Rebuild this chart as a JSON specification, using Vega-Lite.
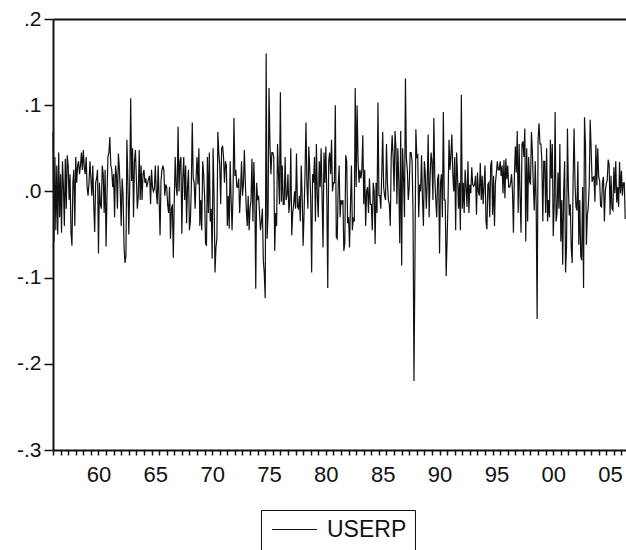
{
  "$schema": "https://vega.github.io/schema/vega-lite/v6.json",
  "width": 573,
  "height": 431,
  "autosize": "none",
  "padding": {"left": 53, "top": 19, "right": 0, "bottom": 100},
  "background": "white",
  "config": {
    "font": "Liberation Sans",
    "view": {"stroke": null}
  },
  "datasets": {"main": [
{"t":1956,"v":0.069},{"t":1956.083,"v":-0.058},{"t":1956.167,"v":0.040},{"t":1956.25,"v":-0.045},{"t":1956.333,"v":0.030},{"t":1956.417,"v":-0.050},{"t":1956.5,"v":0.045},{"t":1956.583,"v":-0.030},{"t":1956.667,"v":0.020},{"t":1956.75,"v":-0.048},{"t":1956.833,"v":0.035},{"t":1956.917,"v":0.005},
{"t":1957,"v":-0.040},{"t":1957.083,"v":0.038},{"t":1957.167,"v":-0.020},{"t":1957.25,"v":0.042},{"t":1957.333,"v":0.030},{"t":1957.417,"v":-0.010},{"t":1957.5,"v":0.020},{"t":1957.583,"v":-0.048},{"t":1957.667,"v":-0.063},{"t":1957.75,"v":0.010},{"t":1957.833,"v":0.025},{"t":1957.917,"v":-0.040},
{"t":1958,"v":0.040},{"t":1958.083,"v":0.010},{"t":1958.167,"v":0.030},{"t":1958.25,"v":0.035},{"t":1958.333,"v":0.020},{"t":1958.417,"v":0.030},{"t":1958.5,"v":0.045},{"t":1958.583,"v":0.025},{"t":1958.667,"v":0.048},{"t":1958.75,"v":0.028},{"t":1958.833,"v":0.020},{"t":1958.917,"v":0.040},
{"t":1959,"v":0.005},{"t":1959.083,"v":-0.005},{"t":1959.167,"v":0.010},{"t":1959.25,"v":0.035},{"t":1959.333,"v":0.015},{"t":1959.417,"v":-0.005},{"t":1959.5,"v":0.030},{"t":1959.583,"v":-0.015},{"t":1959.667,"v":-0.047},{"t":1959.75,"v":0.010},{"t":1959.833,"v":0.015},{"t":1959.917,"v":0.025},
{"t":1960,"v":-0.072},{"t":1960.083,"v":0.010},{"t":1960.167,"v":-0.015},{"t":1960.25,"v":-0.020},{"t":1960.333,"v":0.030},{"t":1960.417,"v":0.020},{"t":1960.5,"v":-0.025},{"t":1960.583,"v":0.025},{"t":1960.667,"v":-0.064},{"t":1960.75,"v":-0.005},{"t":1960.833,"v":0.040},{"t":1960.917,"v":0.045},
{"t":1961,"v":0.063},{"t":1961.083,"v":0.030},{"t":1961.167,"v":0.025},{"t":1961.25,"v":0.005},{"t":1961.333,"v":0.020},{"t":1961.417,"v":-0.030},{"t":1961.5,"v":0.030},{"t":1961.583,"v":0.020},{"t":1961.667,"v":-0.020},{"t":1961.75,"v":0.044},{"t":1961.833,"v":0.028},{"t":1961.917,"v":0.000},
{"t":1962,"v":-0.040},{"t":1962.083,"v":0.015},{"t":1962.167,"v":-0.005},{"t":1962.25,"v":-0.065},{"t":1962.333,"v":-0.083},{"t":1962.417,"v":-0.075},{"t":1962.5,"v":0.060},{"t":1962.583,"v":0.015},{"t":1962.667,"v":-0.050},{"t":1962.75,"v":0.005},{"t":1962.833,"v":0.108},{"t":1962.917,"v":0.012},
{"t":1963,"v":0.050},{"t":1963.083,"v":-0.030},{"t":1963.167,"v":0.035},{"t":1963.25,"v":0.048},{"t":1963.333,"v":0.015},{"t":1963.417,"v":-0.020},{"t":1963.5,"v":-0.005},{"t":1963.583,"v":0.048},{"t":1963.667,"v":-0.010},{"t":1963.75,"v":0.030},{"t":1963.833,"v":-0.010},{"t":1963.917,"v":0.020},
{"t":1964,"v":0.025},{"t":1964.083,"v":0.010},{"t":1964.167,"v":0.015},{"t":1964.25,"v":0.005},{"t":1964.333,"v":0.010},{"t":1964.417,"v":0.015},{"t":1964.5,"v":0.018},{"t":1964.583,"v":-0.015},{"t":1964.667,"v":0.025},{"t":1964.75,"v":0.005},{"t":1964.833,"v":0.000},{"t":1964.917,"v":0.003},
{"t":1965,"v":0.030},{"t":1965.083,"v":0.000},{"t":1965.167,"v":-0.015},{"t":1965.25,"v":0.030},{"t":1965.333,"v":-0.008},{"t":1965.417,"v":-0.051},{"t":1965.5,"v":0.012},{"t":1965.583,"v":0.025},{"t":1965.667,"v":0.030},{"t":1965.75,"v":0.025},{"t":1965.833,"v":-0.005},{"t":1965.917,"v":0.008},
{"t":1966,"v":0.005},{"t":1966.083,"v":-0.015},{"t":1966.167,"v":-0.025},{"t":1966.25,"v":0.005},{"t":1966.333,"v":-0.055},{"t":1966.417,"v":-0.020},{"t":1966.5,"v":-0.015},{"t":1966.583,"v":-0.077},{"t":1966.667,"v":-0.010},{"t":1966.75,"v":0.040},{"t":1966.833,"v":0.005},{"t":1966.917,"v":-0.005},
{"t":1967,"v":0.075},{"t":1967.083,"v":0.000},{"t":1967.167,"v":0.035},{"t":1967.25,"v":0.040},{"t":1967.333,"v":-0.049},{"t":1967.417,"v":0.015},{"t":1967.5,"v":0.040},{"t":1967.583,"v":-0.010},{"t":1967.667,"v":0.030},{"t":1967.75,"v":-0.037},{"t":1967.833,"v":0.005},{"t":1967.917,"v":0.025},
{"t":1968,"v":-0.045},{"t":1968.083,"v":-0.035},{"t":1968.167,"v":0.005},{"t":1968.25,"v":0.080},{"t":1968.333,"v":0.015},{"t":1968.417,"v":0.010},{"t":1968.5,"v":-0.020},{"t":1968.583,"v":0.015},{"t":1968.667,"v":0.040},{"t":1968.75,"v":0.008},{"t":1968.833,"v":0.050},{"t":1968.917,"v":-0.040},
{"t":1969,"v":-0.010},{"t":1969.083,"v":-0.045},{"t":1969.167,"v":0.035},{"t":1969.25,"v":0.020},{"t":1969.333,"v":-0.005},{"t":1969.417,"v":-0.060},{"t":1969.5,"v":-0.063},{"t":1969.583,"v":0.040},{"t":1969.667,"v":-0.025},{"t":1969.75,"v":0.045},{"t":1969.833,"v":-0.035},{"t":1969.917,"v":-0.020},
{"t":1970,"v":-0.078},{"t":1970.083,"v":0.050},{"t":1970.167,"v":-0.005},{"t":1970.25,"v":-0.094},{"t":1970.333,"v":-0.065},{"t":1970.417,"v":-0.055},{"t":1970.5,"v":0.069},{"t":1970.583,"v":0.045},{"t":1970.667,"v":0.030},{"t":1970.75,"v":-0.015},{"t":1970.833,"v":0.050},{"t":1970.917,"v":0.053},
{"t":1971,"v":0.040},{"t":1971.083,"v":0.010},{"t":1971.167,"v":0.035},{"t":1971.25,"v":0.030},{"t":1971.333,"v":-0.040},{"t":1971.417,"v":-0.005},{"t":1971.5,"v":-0.043},{"t":1971.583,"v":0.035},{"t":1971.667,"v":-0.010},{"t":1971.75,"v":-0.045},{"t":1971.833,"v":-0.005},{"t":1971.917,"v":0.085},
{"t":1972,"v":0.018},{"t":1972.083,"v":0.025},{"t":1972.167,"v":0.005},{"t":1972.25,"v":0.005},{"t":1972.333,"v":0.015},{"t":1972.417,"v":-0.025},{"t":1972.5,"v":0.000},{"t":1972.583,"v":0.035},{"t":1972.667,"v":-0.005},{"t":1972.75,"v":0.009},{"t":1972.833,"v":0.048},{"t":1972.917,"v":0.010},
{"t":1973,"v":-0.020},{"t":1973.083,"v":-0.040},{"t":1973.167,"v":-0.005},{"t":1973.25,"v":-0.045},{"t":1973.333,"v":-0.020},{"t":1973.417,"v":-0.010},{"t":1973.5,"v":0.038},{"t":1973.583,"v":-0.035},{"t":1973.667,"v":0.034},{"t":1973.75,"v":-0.005},{"t":1973.833,"v":-0.113},{"t":1973.917,"v":0.010},
{"t":1974,"v":-0.010},{"t":1974.083,"v":-0.005},{"t":1974.167,"v":-0.025},{"t":1974.25,"v":-0.045},{"t":1974.333,"v":-0.035},{"t":1974.417,"v":-0.020},{"t":1974.5,"v":-0.080},{"t":1974.583,"v":-0.095},{"t":1974.667,"v":-0.124},{"t":1974.75,"v":0.160},{"t":1974.833,"v":-0.055},{"t":1974.917,"v":-0.025},
{"t":1975,"v":0.120},{"t":1975.083,"v":0.055},{"t":1975.167,"v":0.020},{"t":1975.25,"v":0.045},{"t":1975.333,"v":0.045},{"t":1975.417,"v":0.040},{"t":1975.5,"v":-0.069},{"t":1975.583,"v":-0.025},{"t":1975.667,"v":-0.040},{"t":1975.75,"v":0.055},{"t":1975.833,"v":0.020},{"t":1975.917,"v":-0.015},
{"t":1976,"v":0.115},{"t":1976.083,"v":-0.012},{"t":1976.167,"v":0.030},{"t":1976.25,"v":-0.015},{"t":1976.333,"v":-0.015},{"t":1976.417,"v":0.040},{"t":1976.5,"v":-0.010},{"t":1976.583,"v":-0.005},{"t":1976.667,"v":0.020},{"t":1976.75,"v":-0.025},{"t":1976.833,"v":-0.010},{"t":1976.917,"v":0.050},
{"t":1977,"v":-0.051},{"t":1977.083,"v":-0.025},{"t":1977.167,"v":-0.015},{"t":1977.25,"v":0.000},{"t":1977.333,"v":-0.020},{"t":1977.417,"v":0.044},{"t":1977.5,"v":-0.018},{"t":1977.583,"v":-0.020},{"t":1977.667,"v":-0.005},{"t":1977.75,"v":-0.035},{"t":1977.833,"v":0.030},{"t":1977.917,"v":-0.005},
{"t":1978,"v":-0.063},{"t":1978.083,"v":-0.025},{"t":1978.167,"v":0.020},{"t":1978.25,"v":0.080},{"t":1978.333,"v":0.010},{"t":1978.417,"v":-0.020},{"t":1978.5,"v":0.052},{"t":1978.583,"v":0.025},{"t":1978.667,"v":-0.010},{"t":1978.75,"v":-0.094},{"t":1978.833,"v":0.020},{"t":1978.917,"v":0.010},
{"t":1979,"v":0.040},{"t":1979.083,"v":-0.035},{"t":1979.167,"v":0.055},{"t":1979.25,"v":-0.005},{"t":1979.333,"v":-0.030},{"t":1979.417,"v":0.035},{"t":1979.5,"v":0.005},{"t":1979.583,"v":0.050},{"t":1979.667,"v":-0.005},{"t":1979.75,"v":-0.065},{"t":1979.833,"v":0.045},{"t":1979.917,"v":0.010},
{"t":1980,"v":0.052},{"t":1980.083,"v":-0.005},{"t":1980.167,"v":-0.112},{"t":1980.25,"v":0.035},{"t":1980.333,"v":0.045},{"t":1980.417,"v":0.020},{"t":1980.5,"v":0.060},{"t":1980.583,"v":0.000},{"t":1980.667,"v":0.010},{"t":1980.75,"v":0.010},{"t":1980.833,"v":0.100},{"t":1980.917,"v":-0.053},
{"t":1981,"v":-0.055},{"t":1981.083,"v":0.005},{"t":1981.167,"v":0.030},{"t":1981.25,"v":-0.030},{"t":1981.333,"v":-0.010},{"t":1981.417,"v":-0.015},{"t":1981.5,"v":-0.010},{"t":1981.583,"v":-0.069},{"t":1981.667,"v":-0.060},{"t":1981.75,"v":0.042},{"t":1981.833,"v":0.035},{"t":1981.917,"v":-0.037},
{"t":1982,"v":-0.030},{"t":1982.083,"v":-0.065},{"t":1982.167,"v":-0.015},{"t":1982.25,"v":0.030},{"t":1982.333,"v":-0.045},{"t":1982.417,"v":-0.030},{"t":1982.5,"v":-0.035},{"t":1982.583,"v":0.120},{"t":1982.667,"v":0.005},{"t":1982.75,"v":0.100},{"t":1982.833,"v":0.035},{"t":1982.917,"v":0.010},
{"t":1983,"v":0.025},{"t":1983.083,"v":0.015},{"t":1983.167,"v":0.025},{"t":1983.25,"v":0.065},{"t":1983.333,"v":-0.015},{"t":1983.417,"v":0.025},{"t":1983.5,"v":-0.040},{"t":1983.583,"v":0.000},{"t":1983.667,"v":0.005},{"t":1983.75,"v":-0.025},{"t":1983.833,"v":0.015},{"t":1983.917,"v":-0.015},
{"t":1984,"v":-0.015},{"t":1984.083,"v":-0.045},{"t":1984.167,"v":0.010},{"t":1984.25,"v":0.000},{"t":1984.333,"v":-0.061},{"t":1984.417,"v":0.010},{"t":1984.5,"v":-0.025},{"t":1984.583,"v":0.103},{"t":1984.667,"v":-0.005},{"t":1984.75,"v":-0.005},{"t":1984.833,"v":-0.020},{"t":1984.917,"v":0.020},
{"t":1985,"v":0.069},{"t":1985.083,"v":0.005},{"t":1985.167,"v":-0.005},{"t":1985.25,"v":-0.010},{"t":1985.333,"v":0.055},{"t":1985.417,"v":0.010},{"t":1985.5,"v":-0.010},{"t":1985.583,"v":-0.015},{"t":1985.667,"v":-0.040},{"t":1985.75,"v":0.040},{"t":1985.833,"v":0.065},{"t":1985.917,"v":0.040},
{"t":1986,"v":0.000},{"t":1986.083,"v":0.070},{"t":1986.167,"v":0.050},{"t":1986.25,"v":-0.015},{"t":1986.333,"v":0.050},{"t":1986.417,"v":0.010},{"t":1986.5,"v":-0.060},{"t":1986.583,"v":0.070},{"t":1986.667,"v":-0.086},{"t":1986.75,"v":0.050},{"t":1986.833,"v":0.015},{"t":1986.917,"v":-0.030},
{"t":1987,"v":0.131},{"t":1987.083,"v":0.038},{"t":1987.167,"v":0.025},{"t":1987.25,"v":-0.010},{"t":1987.333,"v":0.005},{"t":1987.417,"v":0.045},{"t":1987.5,"v":0.045},{"t":1987.583,"v":0.035},{"t":1987.667,"v":-0.025},{"t":1987.75,"v":-0.220},{"t":1987.833,"v":-0.085},{"t":1987.917,"v":0.072},
{"t":1988,"v":0.040},{"t":1988.083,"v":0.042},{"t":1988.167,"v":-0.030},{"t":1988.25,"v":0.008},{"t":1988.333,"v":0.000},{"t":1988.417,"v":0.042},{"t":1988.5,"v":-0.010},{"t":1988.583,"v":-0.040},{"t":1988.667,"v":0.035},{"t":1988.75,"v":0.020},{"t":1988.833,"v":-0.020},{"t":1988.917,"v":0.010},
{"t":1989,"v":0.066},{"t":1989.083,"v":-0.030},{"t":1989.167,"v":0.015},{"t":1989.25,"v":0.045},{"t":1989.333,"v":0.035},{"t":1989.417,"v":-0.010},{"t":1989.5,"v":0.085},{"t":1989.583,"v":0.015},{"t":1989.667,"v":-0.010},{"t":1989.75,"v":-0.030},{"t":1989.833,"v":0.015},{"t":1989.917,"v":0.020},
{"t":1990,"v":-0.072},{"t":1990.083,"v":0.010},{"t":1990.167,"v":0.020},{"t":1990.25,"v":-0.030},{"t":1990.333,"v":0.092},{"t":1990.417,"v":-0.010},{"t":1990.5,"v":-0.010},{"t":1990.583,"v":-0.098},{"t":1990.667,"v":-0.055},{"t":1990.75,"v":-0.010},{"t":1990.833,"v":0.060},{"t":1990.917,"v":0.025},
{"t":1991,"v":0.042},{"t":1991.083,"v":0.066},{"t":1991.167,"v":0.020},{"t":1991.25,"v":0.000},{"t":1991.333,"v":0.040},{"t":1991.417,"v":-0.045},{"t":1991.5,"v":0.045},{"t":1991.583,"v":0.018},{"t":1991.667,"v":-0.020},{"t":1991.75,"v":0.010},{"t":1991.833,"v":-0.045},{"t":1991.917,"v":0.112},
{"t":1992,"v":-0.020},{"t":1992.083,"v":0.010},{"t":1992.167,"v":-0.025},{"t":1992.25,"v":0.025},{"t":1992.333,"v":0.005},{"t":1992.417,"v":-0.018},{"t":1992.5,"v":0.035},{"t":1992.583,"v":-0.025},{"t":1992.667,"v":0.008},{"t":1992.75,"v":-0.002},{"t":1992.833,"v":0.028},{"t":1992.917,"v":0.008},
{"t":1993,"v":0.006},{"t":1993.083,"v":0.008},{"t":1993.167,"v":0.018},{"t":1993.25,"v":-0.027},{"t":1993.333,"v":0.022},{"t":1993.417,"v":0.000},{"t":1993.5,"v":-0.005},{"t":1993.583,"v":0.033},{"t":1993.667,"v":-0.010},{"t":1993.75,"v":0.018},{"t":1993.833,"v":-0.015},{"t":1993.917,"v":0.008},
{"t":1994,"v":0.030},{"t":1994.083,"v":-0.035},{"t":1994.167,"v":-0.044},{"t":1994.25,"v":0.008},{"t":1994.333,"v":0.010},{"t":1994.417,"v":-0.030},{"t":1994.5,"v":0.030},{"t":1994.583,"v":0.036},{"t":1994.667,"v":-0.027},{"t":1994.75,"v":0.018},{"t":1994.833,"v":-0.040},{"t":1994.917,"v":0.010},
{"t":1995,"v":0.022},{"t":1995.083,"v":0.035},{"t":1995.167,"v":0.025},{"t":1995.25,"v":0.025},{"t":1995.333,"v":0.035},{"t":1995.417,"v":0.018},{"t":1995.5,"v":0.030},{"t":1995.583,"v":-0.002},{"t":1995.667,"v":0.036},{"t":1995.75,"v":-0.008},{"t":1995.833,"v":0.038},{"t":1995.917,"v":0.014},
{"t":1996,"v":0.030},{"t":1996.083,"v":0.005},{"t":1996.167,"v":0.005},{"t":1996.25,"v":0.010},{"t":1996.333,"v":0.020},{"t":1996.417,"v":0.000},{"t":1996.5,"v":-0.048},{"t":1996.583,"v":0.018},{"t":1996.667,"v":0.052},{"t":1996.75,"v":0.022},{"t":1996.833,"v":0.070},{"t":1996.917,"v":-0.025},
{"t":1997,"v":0.055},{"t":1997.083,"v":-0.005},{"t":1997.167,"v":-0.048},{"t":1997.25,"v":0.055},{"t":1997.333,"v":0.058},{"t":1997.417,"v":0.040},{"t":1997.5,"v":0.073},{"t":1997.583,"v":-0.058},{"t":1997.667,"v":0.050},{"t":1997.75,"v":-0.035},{"t":1997.833,"v":0.040},{"t":1997.917,"v":0.012},
{"t":1998,"v":0.008},{"t":1998.083,"v":0.069},{"t":1998.167,"v":0.045},{"t":1998.25,"v":0.007},{"t":1998.333,"v":-0.022},{"t":1998.417,"v":0.035},{"t":1998.5,"v":-0.015},{"t":1998.583,"v":-0.148},{"t":1998.667,"v":0.060},{"t":1998.75,"v":0.079},{"t":1998.833,"v":0.055},{"t":1998.917,"v":0.055},
{"t":1999,"v":0.035},{"t":1999.083,"v":-0.035},{"t":1999.167,"v":0.035},{"t":1999.25,"v":0.035},{"t":1999.333,"v":-0.025},{"t":1999.417,"v":0.050},{"t":1999.5,"v":-0.035},{"t":1999.583,"v":-0.010},{"t":1999.667,"v":-0.030},{"t":1999.75,"v":0.060},{"t":1999.833,"v":0.015},{"t":1999.917,"v":0.055},
{"t":2000,"v":-0.052},{"t":2000.083,"v":-0.015},{"t":2000.167,"v":0.092},{"t":2000.25,"v":-0.035},{"t":2000.333,"v":-0.025},{"t":2000.417,"v":0.022},{"t":2000.5,"v":-0.020},{"t":2000.583,"v":0.055},{"t":2000.667,"v":-0.058},{"t":2000.75,"v":-0.010},{"t":2000.833,"v":-0.085},{"t":2000.917,"v":0.000},
{"t":2001,"v":0.035},{"t":2001.083,"v":-0.094},{"t":2001.167,"v":-0.065},{"t":2001.25,"v":0.073},{"t":2001.333,"v":0.003},{"t":2001.417,"v":-0.028},{"t":2001.5,"v":-0.015},{"t":2001.583,"v":-0.065},{"t":2001.667,"v":-0.083},{"t":2001.75,"v":0.015},{"t":2001.833,"v":0.073},{"t":2001.917,"v":0.008},
{"t":2002,"v":-0.018},{"t":2002.083,"v":-0.022},{"t":2002.167,"v":0.035},{"t":2002.25,"v":-0.062},{"t":2002.333,"v":-0.010},{"t":2002.417,"v":-0.075},{"t":2002.5,"v":-0.080},{"t":2002.583,"v":0.005},{"t":2002.667,"v":-0.112},{"t":2002.75,"v":0.086},{"t":2002.833,"v":0.055},{"t":2002.917,"v":-0.062},
{"t":2003,"v":-0.028},{"t":2003.083,"v":-0.018},{"t":2003.167,"v":0.008},{"t":2003.25,"v":0.083},{"t":2003.333,"v":0.050},{"t":2003.417,"v":0.011},{"t":2003.5,"v":0.016},{"t":2003.583,"v":0.017},{"t":2003.667,"v":-0.012},{"t":2003.75,"v":0.054},{"t":2003.833,"v":0.007},{"t":2003.917,"v":0.050},
{"t":2004,"v":0.017},{"t":2004.083,"v":0.012},{"t":2004.167,"v":-0.017},{"t":2004.25,"v":-0.018},{"t":2004.333,"v":0.011},{"t":2004.417,"v":0.017},{"t":2004.5,"v":-0.035},{"t":2004.583,"v":0.000},{"t":2004.667,"v":0.009},{"t":2004.75,"v":0.013},{"t":2004.833,"v":0.037},{"t":2004.917,"v":0.031},
{"t":2005,"v":-0.027},{"t":2005.083,"v":0.018},{"t":2005.167,"v":-0.020},{"t":2005.25,"v":-0.022},{"t":2005.333,"v":0.028},{"t":2005.417,"v":-0.002},{"t":2005.5,"v":0.035},{"t":2005.583,"v":-0.013},{"t":2005.667,"v":0.005},{"t":2005.75,"v":-0.018},{"t":2005.833,"v":0.034},{"t":2005.917,"v":-0.002},
{"t":2006,"v":0.024},{"t":2006.083,"v":-0.005},{"t":2006.167,"v":0.010},{"t":2006.25,"v":0.010},{"t":2006.333,"v":-0.032}
  ],
  "legendrow": [{"s": "USERP"}]},
  "layer": [
    {
      "data": {"name": "main"},
      "mark": {"type": "line", "color": "#111111", "strokeWidth": 1.2},
      "encoding": {
        "x": {
          "field": "t", "type": "quantitative",
          "scale": {"domain": [1956, 2006.4], "nice": false, "zero": false},
          "axis": {
            "values": [1960, 1965, 1970, 1975, 1980, 1985, 1990, 1995, 2000, 2005],
            "labelExpr": "substring(toString(datum.value), 2, 4)",
            "ticks": false, "domain": true, "domainColor": "#111111", "domainWidth": 2,
            "grid": false, "title": null,
            "labelFontSize": 22, "labelPadding": 14, "labelColor": "#111111",
            "labelFlush": false, "labelOverlap": false
          }
        },
        "y": {
          "field": "v", "type": "quantitative",
          "scale": {"domain": [-0.3, 0.2], "nice": false, "zero": false},
          "axis": {
            "values": [-0.3, -0.2, -0.1, 0, 0.1, 0.2],
            "labelExpr": "(datum.value < -0.001 ? '-' : '') + '.' + toString(round(abs(datum.value) * 10))",
            "grid": false, "title": null,
            "tickSize": 9, "tickWidth": 1.5, "tickColor": "#111111",
            "domainColor": "#111111", "domainWidth": 2,
            "labelFontSize": 21, "labelPadding": 3, "labelColor": "#111111",
            "labelFlush": false, "labelOverlap": false
          }
        }
      }
    },
    {
      "data": {"name": "main"},
      "mark": {"type": "line", "strokeOpacity": 0},
      "encoding": {
        "x": {
          "field": "t", "type": "quantitative",
          "axis": {
            "orient": "bottom",
            "values": [1956,1956.667,1957.333,1958,1958.667,1959.333,1960,1960.667,1961.333,1962,1962.667,1963.333,1964,1964.667,1965.333,1966,1966.667,1967.333,1968,1968.667,1969.333,1970,1970.667,1971.333,1972,1972.667,1973.333,1974,1974.667,1975.333,1976,1976.667,1977.333,1978,1978.667,1979.333,1980,1980.667,1981.333,1982,1982.667,1983.333,1984,1984.667,1985.333,1986,1986.667,1987.333,1988,1988.667,1989.333,1990,1990.667,1991.333,1992,1992.667,1993.333,1994,1994.667,1995.333,1996,1996.667,1997.333,1998,1998.667,1999.333,2000,2000.667,2001.333,2002,2002.667,2003.333,2004,2004.667,2005.333,2006],
            "labels": false, "grid": false, "title": null, "domain": false,
            "tickSize": 5, "tickWidth": 1.5, "tickColor": "#111111"
          }
        },
        "y": {"field": "v", "type": "quantitative"}
      }
    },
    {
      "data": {"name": "legendrow"},
      "mark": {"type": "rule", "strokeOpacity": 0},
      "encoding": {
        "x": {
          "datum": 1980, "type": "quantitative",
          "axis": {
            "orient": "top", "labels": false, "ticks": false, "grid": false, "title": null,
            "domain": true, "domainColor": "#111111", "domainWidth": 2
          }
        },
        "y": {"datum": 0, "type": "quantitative"},
        "stroke": {
          "field": "s", "type": "nominal",
          "scale": {"range": ["#111111"]},
          "legend": {
            "title": null, "orient": "none", "legendX": 208, "legendY": 491,
            "strokeColor": "#111111", "padding": 8,
            "symbolType": "M-3,0H3", "symbolSize": 225, "symbolStrokeWidth": 1,
            "symbolStrokeColor": "#111111", "symbolFillColor": "transparent", "symbolOpacity": 1,
            "symbolOffset": 14,
            "labelFontSize": 23, "labelOffset": 21, "labelColor": "#111111",
            "labelLimit": 200
          }
        }
      }
    }
  ],
  "resolve": {"axis": {"x": "independent"}}
}
